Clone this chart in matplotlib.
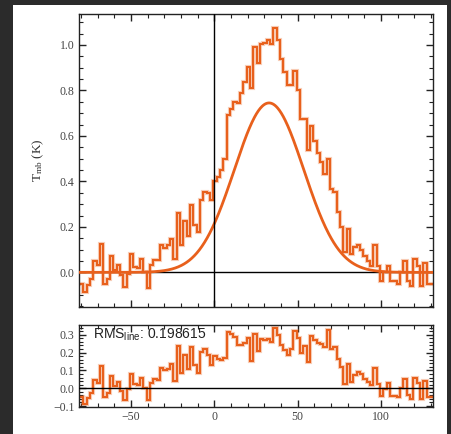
import numpy as np
import matplotlib.pyplot as plt
from matplotlib.patches import Rectangle
from matplotlib.ticker import MultipleLocator

# channel grid (km/s)
v_first = -81.6
dv = 2.0
# Tmb per channel (K)
tmb = [-0.05, -0.05, -0.087, -0.057, -0.028, 0.048, 0.031, 0.123, -0.05, -0.028,
       0.07, 0.012, 0.034, -0.013, -0.065, -0.006, 0.082, 0.023, 0.019, 0.06,
       0.0, -0.067, 0.031, 0.053, 0.053, 0.119, 0.108, 0.119, 0.148, 0.06,
       0.261, 0.119, 0.226, 0.158, 0.295, 0.207, 0.177, 0.317, 0.353, 0.349,
       0.32, 0.40, 0.42, 0.45, 0.50, 0.69, 0.72, 0.75, 0.746, 0.79,
       0.839, 0.905, 0.81, 0.99, 0.922, 1.005, 1.01, 1.02, 1.005, 1.073,
       1.02, 0.937, 0.883, 0.824, 0.824, 0.886, 0.801, 0.673, 0.673, 0.538,
       0.643, 0.579, 0.523, 0.485, 0.434, 0.50, 0.368, 0.353, 0.265, 0.20,
       0.09, 0.19, 0.08, 0.11, 0.12, 0.10, 0.07, 0.05, 0.03, 0.12,
       0.03, -0.04, 0.0, 0.03, -0.04, -0.04, -0.05, 0.0, 0.05, -0.04,
       -0.06, 0.06, 0.03, -0.06, 0.04, -0.05, -0.05, -0.05]
# gaussian fit
amp = 0.745
vc = 32.8
sig = 20.8
rms_line = 0.198615

tmb = np.array(tmb)
n = len(tmb)
vchan = v_first + dv * np.arange(n)
edges = v_first - dv / 2 + dv * np.arange(n + 1)
vfine = np.linspace(-90, 140, 600)
fit = amp * np.exp(-(vfine - vc) ** 2 / (2 * sig ** 2))
resid = tmb - amp * np.exp(-(vchan - vc) ** 2 / (2 * sig ** 2))

orange = '#e8601c'
plt.rcParams['mathtext.fontset'] = 'custom'
plt.rcParams['mathtext.rm'] = 'Liberation Serif'
plt.rcParams['mathtext.it'] = 'Liberation Serif:italic'
plt.rcParams['mathtext.sf'] = 'Liberation Sans'

fig = plt.figure(figsize=(4.52, 4.34), dpi=100, facecolor='#2b2b2b')
fig.patches.append(Rectangle((13 / 452, 0), 434 / 452, 429 / 434, transform=fig.transFigure,
                             facecolor='white', edgecolor='none', zorder=-10))

ax = fig.add_axes([0.1754, 0.2933, 0.7833, 0.6744])
ax2 = fig.add_axes([0.1754, 0.0615, 0.7833, 0.1897])

# main spectrum
ax.axhline(0, color='black', lw=1.0, zorder=1)
ax.axvline(0, color='black', lw=1.0, zorder=4)
ax.plot(vfine, fit, color=orange, lw=2.0, zorder=3)
ax.stairs(tmb, edges, baseline=None, color=orange, lw=3.0, alpha=0.3, zorder=2)
ax.stairs(tmb, edges, baseline=None, color=orange, lw=1.5, zorder=2)
ax.set_xlim(-81, 131.3)
ax.set_ylim(-0.151, 1.136)
ax.set_ylabel(r'T$_{\rm mb}$ (K)', family='Liberation Serif', fontsize=9.5, color='#333333', labelpad=10)

# residuals
ax2.axhline(0, color='black', lw=1.0, zorder=3)
ax2.stairs(resid, edges, baseline=None, color=orange, lw=3.0, alpha=0.3, zorder=2)
ax2.stairs(resid, edges, baseline=None, color=orange, lw=1.5, zorder=2)
ax2.set_xlim(-81, 131.3)
ax2.set_ylim(-0.107, 0.355)
ax2.text(0.04, 0.975, r'RMS$_{\mathsf{line}}$: %g' % rms_line, transform=ax2.transAxes,
         ha='left', va='top', family='Liberation Sans', fontsize=10, color='#222222')

for a in (ax, ax2):
    a.xaxis.set_major_locator(MultipleLocator(50))
    a.xaxis.set_minor_locator(MultipleLocator(10))
    a.tick_params(which='both', direction='in', top=True, right=True, color='#222222')
    a.tick_params(which='major', length=5, width=1)
    a.tick_params(which='minor', length=3, width=0.8)
    a.tick_params(labelsize=8.5, labelcolor='#444444')
    for lab in a.get_xticklabels() + a.get_yticklabels():
        lab.set_family('Liberation Serif')
    for s in a.spines.values():
        s.set_linewidth(1.0)
        s.set_color('#222222')

ax.yaxis.set_major_locator(MultipleLocator(0.2))
ax.yaxis.set_minor_locator(MultipleLocator(0.05))
ax.tick_params(labelbottom=False)
ax2.yaxis.set_major_locator(MultipleLocator(0.1))
ax2.yaxis.set_minor_locator(MultipleLocator(0.02))
ax2.tick_params(axis='x', pad=3)

fig.savefig('out.png', dpi=100, facecolor=fig.get_facecolor())
